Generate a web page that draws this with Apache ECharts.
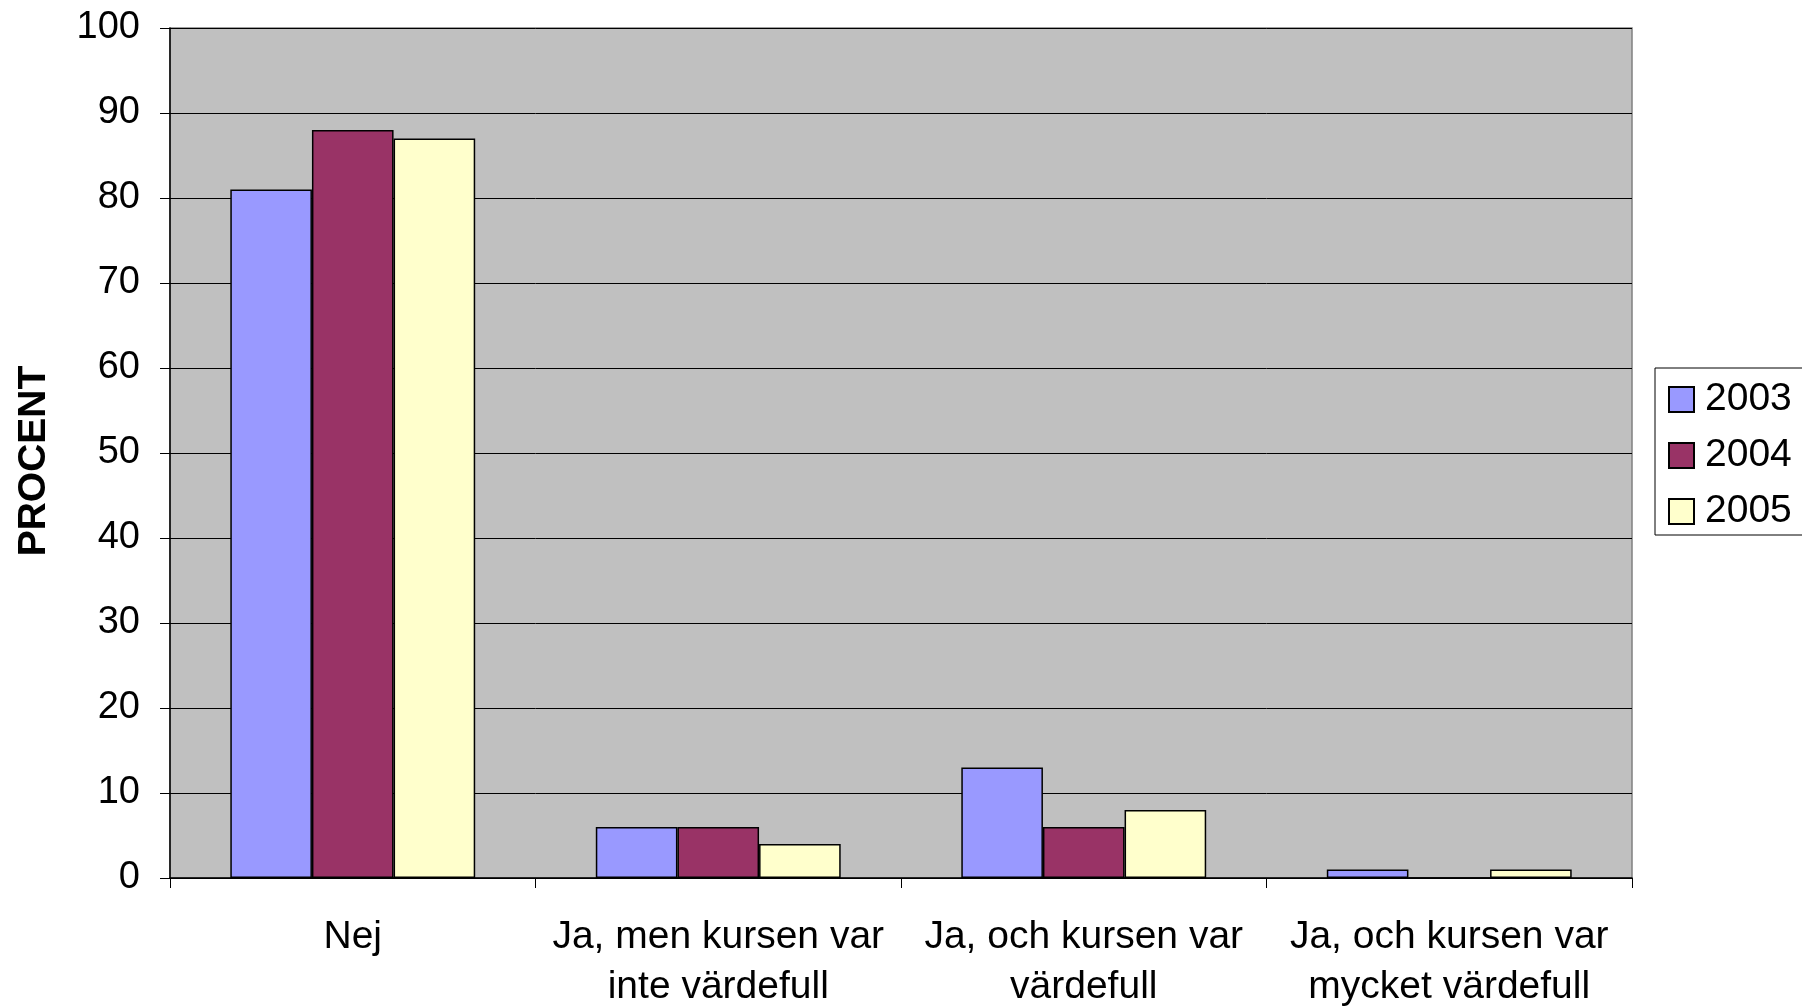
<!DOCTYPE html>
<html>
<head>
<meta charset="utf-8">
<script src="https://cdn.jsdelivr.net/npm/echarts@6/dist/echarts.min.js"></script>
<style>
html,body{margin:0;padding:0;background:#fff;}
#chart{width:1802px;height:1007px;}
</style>
</head>
<body>
<div id="chart"></div>
<script>
var categories = ['Nej', 'Ja, men kursen var\ninte värdefull', 'Ja, och kursen var\nvärdefull', 'Ja, och kursen var\nmycket värdefull'];
var seriesNames = ['2003', '2004', '2005'];
var values2003 = [81, 6, 13, 1];
var values2004 = [88, 6, 6, 0];
var values2005 = [87, 4, 8, 1];
var colors = ['#9999FF', '#993366', '#FFFFCC'];
var yTicks = [0, 100, 10];
var yTitle = 'PROCENT';

var FONT = '"Liberation Sans", Arial, sans-serif';
var allValues = [values2003, values2004, values2005];

var chart = echarts.init(document.getElementById('chart'), null, {renderer: 'canvas'});
chart.setOption({
  animation: false,
  backgroundColor: '#ffffff',
  grid: {
    left: 170, right: 170, top: 28, bottom: 129,
    containLabel: false,
    outerBoundsMode: 'none',
    show: true, backgroundColor: '#C0C0C0', borderColor: '#808080', borderWidth: 1.5
  },
  legend: {
    orient: 'vertical',
    left: 1655, top: 368,
    width: 146,
    padding: [12, 12, 4, 13],
    borderColor: '#000', borderWidth: 1,
    backgroundColor: '#fff',
    itemWidth: 25, itemHeight: 25, itemGap: 17,
    icon: 'rect',
    data: seriesNames,
    textStyle: {fontFamily: FONT, fontSize: 39, color: '#000', lineHeight: 39, padding: [0, 0, 0, 6]}
  },
  xAxis: {
    type: 'category',
    data: categories,
    axisLine: {lineStyle: {color: '#000', width: 1.5}},
    axisTick: {show: true, length: 10, lineStyle: {color: '#000', width: 1}},
    axisLabel: {fontFamily: FONT, fontSize: 39, color: '#000', lineHeight: 50, margin: 34, interval: 0}
  },
  yAxis: {
    type: 'value',
    min: yTicks[0], max: yTicks[1], interval: yTicks[2],
    name: yTitle,
    nameLocation: 'middle',
    nameGap: 116,
    nameRotate: 90,
    nameTextStyle: {fontFamily: FONT, fontSize: 39, fontWeight: 'bold', color: '#000', padding: [0, 16, 0, 0]},
    axisLine: {show: true, lineStyle: {color: '#000', width: 1.5}},
    axisTick: {show: true, length: 10, lineStyle: {color: '#000', width: 1}},
    axisLabel: {fontFamily: FONT, fontSize: 38, color: '#000', margin: 30},
    splitLine: {show: true, lineStyle: {color: '#000', width: 1}}
  },
  series: seriesNames.map(function (name, i) {
    return {
      name: name,
      type: 'bar',
      data: allValues[i],
      barGap: '0%',
      barCategoryGap: '33%',
      itemStyle: {color: colors[i], borderColor: '#000', borderWidth: 1.5}
    };
  })
});
</script>
</body>
</html>
